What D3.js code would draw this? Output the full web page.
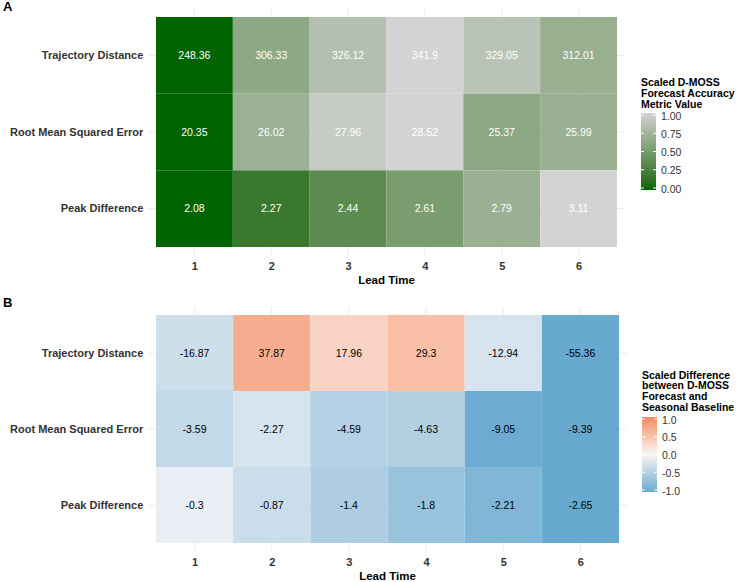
<!DOCTYPE html>
<html>
<head>
<meta charset="utf-8">
<script src="https://cdn.jsdelivr.net/npm/d3@7"></script>
<style>
  body { margin: 0; background: #fff; }
  text { font-family: "Liberation Sans", Arial, sans-serif; }
</style>
</head>
<body>
<div id="vis"></div>
<script>
let W = 741; // width
let H = 582; // height

// Data
let leadTimes = [1, 2, 3, 4, 5, 6];
let metrics = ['Trajectory Distance', 'Root Mean Squared Error', 'Peak Difference'];

// Panel A: D-MOSS forecast accuracy metric values
let accTrajectory = [248.36, 306.33, 326.12, 341.9, 329.05, 312.01];
let accRmse = [20.35, 26.02, 27.96, 28.52, 25.37, 25.99];
let accPeak = [2.08, 2.27, 2.44, 2.61, 2.79, 3.11];

// Panel B: difference between D-MOSS forecast and seasonal baseline
let diffTrajectory = [-16.87, 37.87, 17.96, 29.3, -12.94, -55.36];
let diffRmse = [-3.59, -2.27, -4.59, -4.63, -9.05, -9.39];
let diffPeak = [-0.3, -0.87, -1.4, -1.8, -2.21, -2.65];

let accTicks = [0, 0.25, 0.5, 0.75, 1];
let diffTicks = [-1, -0.5, 0, 0.5, 1];

let svg = d3.select('#vis').append('svg').attr('width', W).attr('height', H);

// plain hyphen minus, like the original
let fmtLocale = d3.formatLocale({decimal: '.', thousands: ',', grouping: [3], currency: ['', ''], minus: '-'});

// Build long tables, scaling each metric row
function buildRows(rows, scaler) {
	let out = [];
	rows.forEach((vals, i) => {
		let s = scaler(vals);
		vals.forEach((v, j) => out.push({metric: metrics[i], lead: leadTimes[j], value: v, scaled: s(v)}));
	});
	return out;
}

let accData = buildRows([accTrajectory, accRmse, accPeak],
		vals => d3.scaleLinear().domain(d3.extent(vals)).range([0, 1]));
let diffData = buildRows([diffTrajectory, diffRmse, diffPeak],
		vals => (v => v / d3.max(vals, d => Math.abs(d))));

let accColor = d3.scaleLinear().domain([0, 1]).range(['#006400', '#D3D3D3']).interpolate(d3.interpolateLab);
let diffColor = d3.scaleLinear().domain([-1, 0, 1]).range(['#67A9CF', '#F7F7F7', '#EF8A62']).interpolate(d3.interpolateLab);

/**
 * Draws one heatmap panel with its legend.
 */
function drawPanel(cfg) {
	let g = svg.append('g');
	let x = d3.scaleLinear().domain([0.4, 6.6]).range([cfg.x0 - 0.1 * cfg.ux, cfg.x1 + 0.1 * cfg.ux]);
	let uy = (cfg.y1 - cfg.y0) / 3;
	let y = d3.scaleBand().domain(metrics).range([cfg.y0, cfg.y1]);
	let [px0, px1] = x.range();
	let py0 = cfg.y0 - 0.1 * uy, py1 = cfg.y1 + 0.1 * uy;

	// grid lines
	g.selectAll('.vg').data(leadTimes).enter().append('line')
			.attr('x1', d => x(d)).attr('x2', d => x(d))
			.attr('y1', py0).attr('y2', py1)
			.attr('stroke', '#EBEBEB').attr('stroke-width', 1);
	g.selectAll('.hg').data(metrics).enter().append('line')
			.attr('x1', px0).attr('x2', px1)
			.attr('y1', d => y(d) + y.bandwidth() / 2).attr('y2', d => y(d) + y.bandwidth() / 2)
			.attr('stroke', '#EBEBEB').attr('stroke-width', 1);

	// tiles
	g.selectAll('rect.tile').data(cfg.data).enter().append('rect')
			.attr('x', d => x(d.lead - 0.5))
			.attr('width', d => x(d.lead + 0.5) - x(d.lead - 0.5))
			.attr('y', d => y(d.metric))
			.attr('height', y.bandwidth())
			.attr('fill', d => cfg.color(d.scaled));

	g.selectAll('text.val').data(cfg.data).enter().append('text')
			.attr('x', d => x(d.lead))
			.attr('y', d => y(d.metric) + y.bandwidth() / 2)
			.attr('dy', '0.35em')
			.attr('text-anchor', 'middle')
			.attr('font-size', '10.5px')
			.attr('fill', cfg.textColor)
			.text(d => d.value);

	// axes
	let xAxis = g.append('g').attr('transform', `translate(0, ${py1})`)
			.call(d3.axisBottom(x).tickValues(leadTimes).tickSize(0).tickPadding(8).tickFormat(d3.format('d')));
	xAxis.select('.domain').remove();
	xAxis.selectAll('text').attr('font-size', '11px').attr('font-weight', 'bold').attr('fill', '#333');

	let yAxis = g.append('g').attr('transform', `translate(${px0}, 0)`)
			.call(d3.axisLeft(y).tickSize(0).tickPadding(5));
	yAxis.select('.domain').remove();
	yAxis.selectAll('text').attr('font-size', '11px').attr('font-weight', 'bold').attr('fill', '#333');

	g.append('text').text('Lead Time')
			.attr('x', (cfg.x0 + cfg.x1) / 2).attr('y', py1 + 29)
			.attr('text-anchor', 'middle').attr('font-size', '11.5px').attr('font-weight', 'bold').attr('fill', '#000');

	g.append('text').text(cfg.tag)
			.attr('x', 3).attr('y', cfg.tagY)
			.attr('font-size', '13px').attr('font-weight', 'bold').attr('fill', '#000');

	// legend
	let lg = g.append('g');
	lg.selectAll('text.title').data(cfg.title).enter().append('text')
			.attr('x', cfg.lx).attr('y', (d, i) => cfg.titleY + i * cfg.titleStep)
			.attr('font-size', '10.5px').attr('font-weight', 'bold').attr('fill', '#000')
			.text(d => d);

	let ly = d3.scaleLinear().domain(cfg.ldomain).range([cfg.lb, cfg.lt]);
	let gradId = 'grad' + cfg.tag;
	let grad = svg.append('defs').append('linearGradient').attr('id', gradId)
			.attr('x1', 0).attr('y1', 1).attr('x2', 0).attr('y2', 0);
	d3.range(0, 1.0001, 0.05).forEach(t => {
		let v = cfg.ldomain[0] + t * (cfg.ldomain[1] - cfg.ldomain[0]);
		grad.append('stop').attr('offset', t).attr('stop-color', cfg.color(v));
	});
	lg.append('rect').attr('x', cfg.lx).attr('width', 15)
			.attr('y', cfg.lt - 2).attr('height', cfg.lb - cfg.lt + 4)
			.attr('fill', `url(#${gradId})`);
	lg.selectAll('line.tk').data(cfg.lticks).enter().append('line')
			.attr('x1', cfg.lx).attr('x2', cfg.lx + 3)
			.attr('y1', d => ly(d)).attr('y2', d => ly(d))
			.attr('stroke', '#fff').attr('stroke-width', 1);
	lg.selectAll('line.tk2').data(cfg.lticks).enter().append('line')
			.attr('x1', cfg.lx + 12).attr('x2', cfg.lx + 15)
			.attr('y1', d => ly(d)).attr('y2', d => ly(d))
			.attr('stroke', '#fff').attr('stroke-width', 1);
	lg.selectAll('text.lab').data(cfg.lticks).enter().append('text')
			.attr('x', cfg.lx + 20).attr('y', d => ly(d) + 1)
			.attr('dy', '0.35em')
			.attr('font-size', '10.5px').attr('fill', '#333')
			.text(d => cfg.lformat(d));
}

drawPanel({
	tag: 'A', tagY: 11, data: accData, color: accColor, textColor: '#fff',
	x0: 156, x1: 617, ux: 76.8, y0: 17, y1: 247,
	title: ['Scaled D-MOSS', 'Forecast Accuracy', 'Metric Value'], lx: 641, titleY: 86, titleStep: 10.8,
	ldomain: [0, 1], lt: 115, lb: 188, lticks: accTicks, lformat: fmtLocale.format('.2f')
});

drawPanel({
	tag: 'B', tagY: 307, data: diffData, color: diffColor, textColor: '#000',
	x0: 156, x1: 619, ux: 77.2, y0: 315, y1: 543,
	title: ['Scaled Difference', 'between D-MOSS', 'Forecast and', 'Seasonal Baseline'], lx: 642, titleY: 378.5, titleStep: 10.8,
	ldomain: [-1, 1], lt: 419, lb: 490, lticks: diffTicks, lformat: fmtLocale.format('.1f')
});
</script>
</body>
</html>
